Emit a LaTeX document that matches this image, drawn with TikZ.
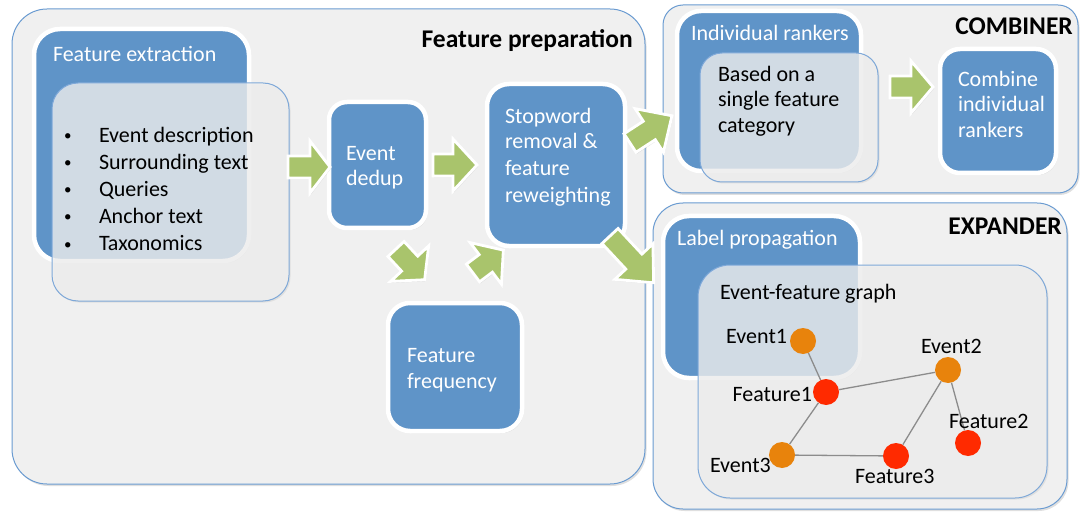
\documentclass[tikz,border=0pt]{standalone}
\usepackage{fontspec}
\setmainfont{Carlito}
\usetikzlibrary{shadows,fit}
\definecolor{bx}{HTML}{5F94C8}
\definecolor{gr}{HTML}{A9C46C}
\definecolor{pan}{HTML}{F0F0F0}
\definecolor{panedge}{HTML}{6A9BD1}
\definecolor{ovedge}{HTML}{7EA8D8}
\definecolor{ora}{HTML}{E8830C}
\definecolor{rd}{HTML}{FF2A00}
\definecolor{edg}{HTML}{8C8C8C}
\newcommand\tl[5][]{\node[txt,#1] (#2) at (#3,#4) {#5};}
\tikzset{
  txt/.style={inner sep=0pt, outer sep=0pt, anchor=base west, font=\fontsize{22}{26}\selectfont},
  wtxt/.style={txt, text=white},
  bul/.style={txt, font=\fontsize{15}{18}\selectfont},
  ttl/.style={inner sep=0pt, anchor=base east, font=\fontsize{25.5}{30}\selectfont\bfseries},
  panel/.style={draw=panedge, line width=1pt, fill=pan, inner sep=0pt, rounded corners=#1,
    drop shadow={opacity=0.25, shadow xshift=1.5pt, shadow yshift=-2pt}},
  bluebox/.style={draw=white, line width=4.5pt, fill=bx, inner sep=0pt, rounded corners=#1,
    drop shadow={opacity=0.25, shadow xshift=1.5pt, shadow yshift=-2pt}},
  overlay/.style={draw=ovedge, line width=1pt, fill=pan, fill opacity=0.78, inner sep=0pt, rounded corners=#1,
    drop shadow={opacity=0.15, shadow xshift=1.5pt, shadow yshift=-1.5pt}},
  gnode/.style={circle, fill=#1, minimum size=26pt, inner sep=0pt},
  gedge/.style={draw=edg, line width=1.3pt},
  pics/garrow/.style 2 args={code={
    \fill[gr, draw=white, line width=2.8pt, line join=miter,
      drop shadow={opacity=0.2, shadow xshift=1pt, shadow yshift=-1.5pt}]
      (0,-11) -- ({#1-#2},-11) -- ({#1-#2},-26) -- (#1,0) -- ({#1-#2},26) -- ({#1-#2},11) -- (0,11) -- cycle;
  }}
}
\begin{document}
\begin{tikzpicture}[x=1pt,y=-1pt]
\useasboundingbox (0,0) rectangle (1083,521);
% panels
\node[panel=35pt, fit={(12,9) (645,484)}] (prep) {};
\node[panel=20pt, fit={(663,5) (1078,193)}] (comb) {};
\node[panel=30pt, fit={(653,203) (1067,509)}] (expd) {};
\node[ttl] (prept) at (633,48) {Feature preparation};
\node[ttl] (combt) at (1073,35) {COMBINER};
\node[ttl] (expdt) at (1062,235) {EXPANDER};
% feature extraction
\node[bluebox=26pt, fit={(34,29) (249,261)}] (fext) {};
\tl[wtxt]{fextt}{53}{62}{Feature extraction}
\node[overlay=26pt, fit={(52,83) (289,301)}] (fextov) {};
\tl[bul]{b1}{64}{141}{•}\tl{l1}{99}{143}{Event description}
\tl[bul]{b2}{64}{168}{•}\tl{l2}{99}{170}{Surrounding text}
\tl[bul]{b3}{64}{195}{•}\tl{l3}{99}{197}{Queries}
\tl[bul]{b4}{64}{222}{•}\tl{l4}{99}{224}{Anchor text}
\tl[bul]{b5}{64}{249}{•}\tl{l5}{99}{251}{Taxonomics}
% event dedup
\node[bluebox=18pt, fit={(329,102) (426,228)}] (dedup) {};
\tl[wtxt]{dd1}{346}{161}{Event}
\tl[wtxt]{dd2}{346}{186}{dedup}
% stopword
\node[bluebox=22pt, fit={(487,84) (625,246)}] (stop) {};
\tl[wtxt]{sw1}{505}{124}{Stopword}
\tl[wtxt]{sw2}{505}{149}{removal \&}
\tl[wtxt]{sw3}{505}{176}{feature}
\tl[wtxt]{sw4}{505}{203}{reweighting}
% feature frequency
\node[bluebox=22pt, fit={(388,303) (522,431)}] (freq) {};
\tl[wtxt]{ff1}{407}{362}{Feature}
\tl[wtxt]{ff2}{407}{388}{frequency}
% individual rankers
\node[bluebox=24pt, fit={(677,11) (861,171)}] (indiv) {};
\tl[wtxt]{indt}{691}{41}{Individual rankers}
\node[overlay=22pt, fit={(700,53) (878,182)}] (indov) {};
\tl{ir1}{718}{82}{Based on a}
\tl{ir2}{718}{107}{single feature}
\tl{ir3}{718}{133}{category}
% combine
\node[bluebox=20pt, fit={(940,49) (1056,173)}] (combn) {};
\tl[wtxt]{cb1}{958}{87}{Combine}
\tl[wtxt]{cb2}{958}{112}{individual}
\tl[wtxt]{cb3}{958}{138}{rankers}
% label propagation
\node[bluebox=26pt, fit={(663,216) (860,378)}] (lprop) {};
\tl[wtxt]{lpt}{677}{245}{Label propagation}
\node[overlay=32pt, fit={(698,265) (1047,498)}] (graph) {};
\tl{grt}{720}{299}{Event-feature graph}
% graph
\node[gnode=ora] (e1) at (803,341) {};
\node[gnode=rd] (f1) at (826,392) {};
\node[gnode=ora] (e2) at (948,370) {};
\node[gnode=rd] (f2) at (968,443) {};
\node[gnode=ora] (e3) at (782,455) {};
\node[gnode=rd] (f3) at (896,456) {};
\draw[gedge] (e1) -- (f1);
\draw[gedge] (f1) -- (e2);
\draw[gedge] (f1) -- (e3);
\draw[gedge] (e3) -- (f3);
\draw[gedge] (f3) -- (e2);
\draw[gedge] (e2) -- (f2);
\tl[anchor=base east]{e1l}{787}{343}{Event1}
\tl[anchor=base east]{f1l}{812}{401}{Feature1}
\tl{e2l}{921}{353}{Event2}
\tl{f2l}{949}{428}{Feature2}
\tl{e3l}{710}{472}{Event3}
\tl{f3l}{855}{483}{Feature3}
% green block arrows
\pic at (288,167) {garrow={42}{20}};
\pic at (433,165) {garrow={44}{24}};
\pic at (890,87) {garrow={43}{22}};
\pic[rotate=-47] at (396,249) {garrow={42}{22}};
\pic[rotate=37] at (473,273) {garrow={38}{22}};
\pic[rotate=33] at (630,143) {garrow={50}{27}};
\pic[rotate=-47] at (610,236) {garrow={64}{29}};
\end{tikzpicture}
\end{document}
